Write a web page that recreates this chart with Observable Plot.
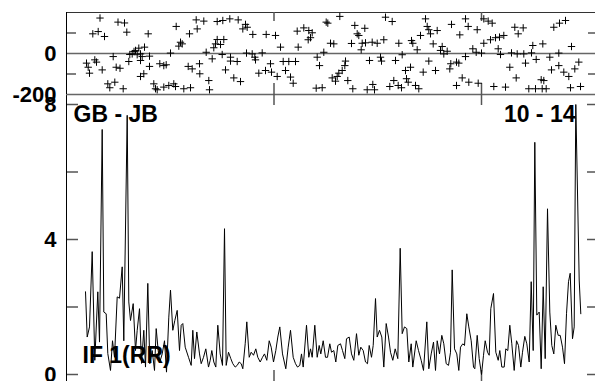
<!DOCTYPE html>
<html><head><meta charset="utf-8">
<script src="https://cdn.jsdelivr.net/npm/d3@7"></script>
<script src="https://cdn.jsdelivr.net/npm/@observablehq/plot@0.6"></script>
<style>
html,body{margin:0;padding:0;background:#fff;}
#wrap{position:relative;width:595px;height:381px;overflow:hidden;background:#fff;}
#wrap svg{position:absolute;left:0;top:0;}
</style></head><body><div id="wrap"></div>
<script>
// ---- data (time in arbitrary scan units; ticks every 207.5 units) ----
const ampTime = [
 19,20.7,23,25.7,28.3,31.3,33,35.7,37.3,39.7,
 41.3,44,46,48,50.7,53,55.7,57.3,60.7,62.3,
 64,66.7,69,70.7,73,75,77.3,79,81.3,83.3,
 85.7,88,89.7,91.7,93.3,95.7,98,100,102.3,104,
 106.3,108.3,110.7,113,114.7,116.3,118.7,122,124.7,126.3,
 128,130.3,133,134.7,137,139.3,142,143.7,145.3,147.3,
 149.3,151.3,153.7,156,158,159.7,162,164.3,166.3,168.7,
 170.7,172.7,174.7,176.3,178.7,180.3,182.7,184.7,187,189.3,
 191.3,193.7,196,198,200.3,202.7,204.7,207,209.3,211.3,
 213.3,216,219.3,221.7,224,226.7,229,231,233.3,235,
 236.7,240,242.3,244,245.7,248.3,250.7,252.7,254.3,256.7,
 259,261,263.3,265,267.3,269.3,271.3,274,276,278.3,
 280,282.7,285,287.3,290,292.3,294.3,296.7,299,301,
 302.7,305,306.7,309,310.7,313,315.3,317.3,319.7,322,
 324,326.3,328.7,331.3,333.7,335.7,338,340.3,342.3,344.7,
 346.3,349.7,352,354.7,357,360.3,362.3,364.7,367,369,
 370.7,373,375.3,377.3,379.7,382,384,385.7,388,390.3,
 392.3,394,396.3,398,400.3,402.3,404.7,407,408.3,410.7,
 412.7,415,417,418.7,421,422.7,424.3,427,429.3,431.7,
 433.3,435.3,437.7,439.3,441.3,443.3,445.3,447.7,450,452,
 454.3,456,458.3,460.3,462.7,464.7,466.7,468.3,470.3,472.7,
 474.7,476.7,478.7,481,483.3,485.3,487.3,489.3,491.7,493.7,
 496,498,500,502,503.7,506,507.7,509.3,512.7,514.3
];
const ampValue = [
 2.45,1.11,1.41,3.64,0.42,2.45,0.96,7.26,1.85,1.8,
 0.62,0.12,1.0,0.51,2.3,2.26,3.19,1.0,7.68,2.15,
 1.6,2.1,0.71,1.31,1.95,0.33,1.31,0.22,2.7,0.32,
 0.71,0.12,1.36,0.71,0.37,0.61,1.0,0.07,1.7,2.5,
 1.31,1.6,1.9,0.71,1.46,1.51,0.81,0.51,0.27,1.31,
 0.47,1.26,0.61,0.32,0.51,0.76,0.22,0.42,0.71,0.37,
 0.22,1.46,0.61,0.27,4.32,0.27,0.66,0.47,0.32,0.22,
 0.27,0.37,0.32,0.17,0.91,1.56,0.51,0.66,0.57,0.76,
 0.51,0.37,0.51,0.61,0.42,1.0,0.81,0.37,0.71,1.11,
 1.41,0.61,0.17,0.81,1.31,0.51,0.32,0.22,0.27,0.61,
 0.22,1.46,0.51,0.76,0.51,1.46,0.51,0.86,0.61,1.0,
 0.51,0.51,0.91,0.66,0.71,0.37,0.86,0.91,0.71,0.47,
 1.06,1.11,0.61,0.42,1.21,0.57,0.81,0.71,0.37,0.32,
 0.86,0.51,0.86,2.25,1.11,1.31,1.11,0.22,1.51,1.11,
 0.66,0.42,0.76,0.47,3.74,1.21,1.41,1.36,0.37,0.91,
 0.22,1.0,0.71,0.42,0.12,1.56,0.17,0.61,0.96,0.12,
 1.0,0.61,1.16,0.91,0.32,0.27,0.66,3.1,0.76,0.61,
 0.12,0.81,0.91,0.86,1.8,1.41,1.0,0.22,0.17,1.16,
 0.47,0.0,0.57,1.0,0.66,0.57,1.95,2.4,0.66,0.42,
 0.71,0.22,0.22,0.76,0.71,1.46,0.91,0.12,1.0,0.86,
 0.22,0.66,1.13,0.91,0.37,2.75,0.71,6.88,1.76,1.85,
 0.17,2.6,0.47,4.91,1.85,0.86,0.61,1.46,1.16,1.16,
 0.81,0.32,1.8,2.75,3.0,1.06,1.41,8.0,2.8,1.8
];
const phaseTime = [
 20,21.7,23,26.3,28.3,30,31.7,33.5,35.7,38,
 41.3,43.3,46.7,48.3,49.7,51.5,53.5,56.7,58,60.3,
 62.3,63.3,65.7,67.5,69,70.7,72.3,74,74,74,
 75.7,77.3,78,81.7,83,83,87.3,89,90.7,93.3,
 97.3,97.3,99.7,102.3,104,107.3,109,109.7,112.3,114,
 115.7,117.3,121.7,123,124,125.7,129.7,130.7,133,133.3,
 137.3,139.7,142.3,143,145.7,147.3,149,150.7,150.7,154,
 155.7,156.3,157.3,159,163.3,164,164,167.3,170.7,171.7,
 174,176.3,179,180,180.7,185.7,186.3,188.3,189,192.3,
 195.7,199,199.7,204,205,209,210.7,214,216.7,219,
 222.3,224,226.7,229,230.7,231.7,237.3,242.3,245.7,244,
 241.7,249.7,250.7,253,255.7,257.3,259.7,261.3,264,265.7,
 267.3,269,270.7,272.3,273.3,275.7,278.3,279,281.3,285,
 286.3,288.3,290.7,292.3,294.7,295.7,298.3,299,300.7,303,
 305.7,306.3,308,310.7,314,315,317.3,319,323.3,325.7,
 327.3,329,331.7,332.3,335,335.7,339,340,341.7,344,
 345,346.3,349,350.7,352.3,354,356.7,359,360.7,362.3,
 362.3,364,366.7,369,370.7,374,375.7,377.3,380.7,383.3,
 384.3,385,390,390,392.3,393.3,395.7,399,399,401.7,
 402.3,406.3,409.7,410.7,411.7,415,417.3,417.3,421.7,424,
 425.7,427.3,429,431.7,433,434,437.3,439,443.3,445,
 448.3,449.7,450.7,451.7,456.7,457.3,459,462.3,465,466.3,
 469,469.7,474.7,475.7,476.3,477.3,479.7,483.3,485,487.3,
 492.3,492.3,493,497.3,499,502.3,504,505,508.3,512.3,
 514
];
const phaseValue = [
 -47,-67,-96,96,-31,-42,107,173,-80,83,
 -148,-167,-15,-140,-67,153,-72,-172,149,104,
 -39,-5,-2,10,15,-6,26,-2,-34,-112,
 -15,-99,31,96,-13,-63,-148,-172,-177,-50,
 -59,-164,-55,-156,2,-148,-161,132,36,55,
 47,-172,-63,96,-167,-75,164,120,-50,-99,
 158,6,-132,-177,-26,28,47,156,68,44,
 -5,161,68,-80,169,-18,-37,-119,-39,164,
 -137,120,142,2,128,-2,93,-18,-31,-96,
 3,-83,93,-50,-91,88,-112,31,-39,-83,
 -39,-115,-145,-39,109,31,125,112,101,77,
 67,-169,-18,-59,-167,6,153,148,50,-119,
 47,-135,-112,-96,181,-83,-59,-37,-132,49,
 -172,137,96,88,18,50,123,52,-177,-34,
 55,-151,-177,50,-18,-37,67,177,-161,156,
 -132,-34,-156,50,-167,-6,-83,-123,-140,-67,
 63,50,-156,18,-172,88,-91,169,132,116,
 -37,96,47,-83,112,15,34,-2,11,-75,
 -50,142,-42,-156,-47,91,-119,169,-15,132,
 -140,23,6,116,-145,2,50,169,158,67,
 148,-161,77,23,80,-5,88,-164,-67,3,
 128,-119,-2,96,125,-2,-47,-172,3,39,
 -172,-29,-128,-172,47,-132,-172,-18,-80,128,
 2,-59,148,-91,161,-112,-167,34,-75,-42,
 -161
];
const phaseLabelTicks = [0, -200];
const phaseMinorTicks = [-100, 100];
const ampLabelTicks = [0, 4, 8];
const ampMinorTicks = [0, 2, 4, 6, 8];
const timeTicks = [207.5, 415];
const timeDomain = [0, 529];
const baselineLabel = "GB - JB";
const scanLabel = "10 - 14";
const ifLabel = "IF 1(RR)";

const W = 595, H = 381;
const FONT = "'Liberation Sans', Arial, Helvetica, sans-serif";
const svgStyle = {fontFamily: FONT, fontWeight: "bold", fontSize: "22px", background: "transparent", overflow: "visible", color: "black"};
const tickStroke = {stroke: "#555", strokeWidth: 1.5};

const phaseData = phaseTime.map((t, i) => ({t, p: phaseValue[i]}));
const ampData = ampTime.map((t, i) => ({t, a: ampValue[i]}));

// top panel: phase
const frameW = W - 66;
const topFrameH = 94 - 12;
const topPlot = Plot.plot({
  width: W, height: H,
  marginTop: 12, marginBottom: H - 94, marginLeft: 66, marginRight: 0,
  style: svgStyle,
  x: {domain: timeDomain, axis: null},
  y: {domain: [-200, 200], axis: null},
  marks: [
    Plot.ruleY([200], {stroke: "#333", strokeWidth: 1}),
    Plot.ruleY([0, -200], {stroke: "#666", strokeWidth: 1.6}),
    Plot.tickY(phaseMinorTicks, {insetRight: frameW - 10, ...tickStroke}),
    Plot.tickY(phaseMinorTicks, {insetLeft: frameW - 7, ...tickStroke}),
    Plot.tickX(timeTicks, {insetBottom: topFrameH - 9, ...tickStroke}),
    Plot.tickX(timeTicks, {insetTop: topFrameH - 11, insetBottom: -11, ...tickStroke}),
    Plot.ruleX([0], {stroke: "black", strokeWidth: 1}),
    Plot.dot(phaseData, {x: "t", y: "p", symbol: "plus", r: 2.5, stroke: "black", strokeWidth: 1}),
    Plot.axisY({ticks: phaseLabelTicks, label: null, tickSize: 0, tickPadding: 10, tickFormat: d => String(d), fontSize: 22, fontWeight: "bold"})
  ]
});

// bottom panel: amplitude
const botFrameH = 374 - 104;
const botPlot = Plot.plot({
  width: W, height: H,
  marginTop: 104, marginBottom: H - 374, marginLeft: 66, marginRight: 0,
  style: svgStyle,
  x: {domain: timeDomain, axis: null},
  y: {domain: [0, 8], axis: null},
  marks: [
    Plot.tickY(ampMinorTicks, {insetRight: frameW - 12, ...tickStroke}),
    Plot.tickY(ampMinorTicks, {insetLeft: frameW - 8, ...tickStroke}),
    Plot.tickX(timeTicks, {insetTop: botFrameH - 4, insetBottom: -(H - 374), ...tickStroke}),
    Plot.ruleX([0], {insetTop: -10, insetBottom: -(H - 374), stroke: "black", strokeWidth: 1}),
    Plot.line(ampData, {x: "t", y: "a", stroke: "black", strokeWidth: 1}),
    Plot.text([baselineLabel], {frameAnchor: "top-left", textAnchor: "start", lineAnchor: "top", dx: 7, dy: 1, fontSize: 23, fontWeight: "bold", fill: "black"}),
    Plot.text([scanLabel], {frameAnchor: "top-right", textAnchor: "end", lineAnchor: "top", dx: -20, dy: 1, fontSize: 23, fontWeight: "bold", fill: "black"}),
    Plot.text([ifLabel], {frameAnchor: "bottom-left", textAnchor: "start", lineAnchor: "bottom", dx: 16, dy: -12, fontSize: 23, fontWeight: "bold", fill: "black"}),
    Plot.axisY({ticks: ampLabelTicks, label: null, tickSize: 0, tickPadding: 10, tickFormat: d => String(d), fontSize: 22, fontWeight: "bold"})
  ]
});

const wrap = document.getElementById("wrap");
wrap.appendChild(botPlot);
wrap.appendChild(topPlot);
</script>
</body></html>
